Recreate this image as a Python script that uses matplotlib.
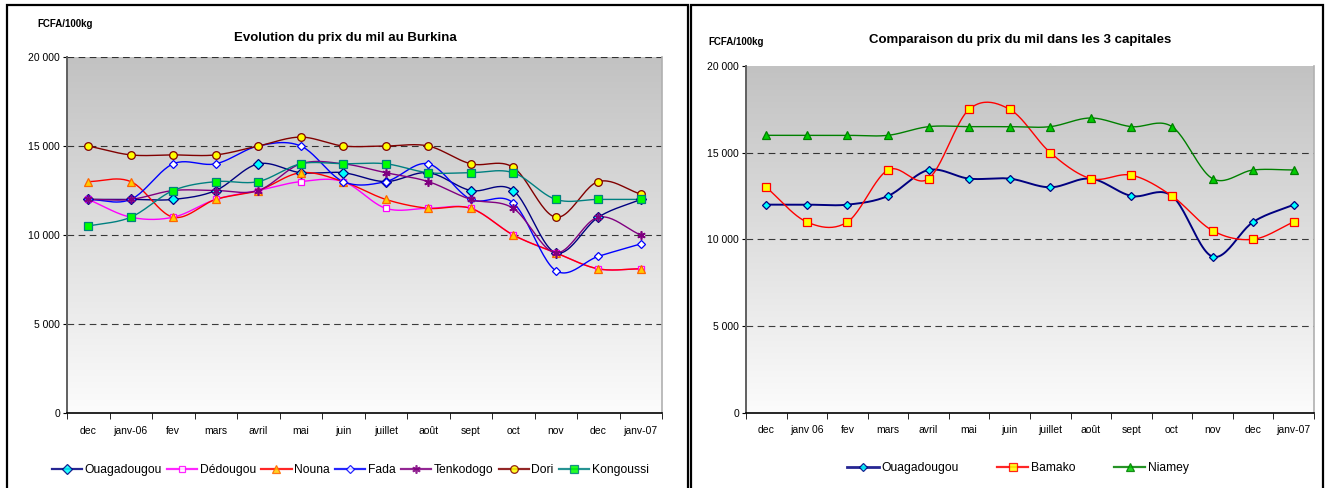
import numpy as np
import matplotlib
matplotlib.use("Agg")
import matplotlib.pyplot as plt
from matplotlib.lines import Line2D
from matplotlib.patches import Rectangle
from matplotlib.colors import LinearSegmentedColormap

plt.rcParams['font.family'] = ['Liberation Sans', 'DejaVu Sans']

# ---------------- data ----------------
months_left = ["dec", "janv-06", "fev", "mars", "avril", "mai", "juin", "juillet",
               "août", "sept", "oct", "nov", "dec", "janv-07"]
months_right = ["dec", "janv 06", "fev", "mars", "avril", "mai", "juin", "juillet",
                "août", "sept", "oct", "nov", "dec", "janv-07"]

ouaga = [12000, 12000, 12000, 12500, 14000, 13500, 13500, 13000, 13500, 12500, 12500, 9000, 11000, 12000]
dedougou = [12000, 11000, 11000, 12000, 12500, 13000, 13000, 11500, 11500, 11500, 10000, 9000, 8100, 8100]
nouna = [13000, 13000, 11000, 12000, 12500, 13500, 13000, 12000, 11500, 11500, 10000, 9000, 8100, 8100]
fada = [12000, 12000, 14000, 14000, 15000, 15000, 13000, 13000, 14000, 12000, 11800, 8000, 8800, 9500]
tenkodogo = [12000, 12000, 12500, 12500, 12500, 14000, 14000, 13500, 13000, 12000, 11500, 9000, 11000, 10000]
dori = [15000, 14500, 14500, 14500, 15000, 15500, 15000, 15000, 15000, 14000, 13800, 11000, 13000, 12300]
kongoussi = [10500, 11000, 12500, 13000, 13000, 14000, 14000, 14000, 13500, 13500, 13500, 12000, 12000, 12000]

ouaga_r = [12000, 12000, 12000, 12500, 14000, 13500, 13500, 13000, 13500, 12500, 12500, 9000, 11000, 12000]
bamako = [13000, 11000, 11000, 14000, 13500, 17500, 17500, 15000, 13500, 13700, 12500, 10500, 10000, 11000]
niamey = [16000, 16000, 16000, 16000, 16500, 16500, 16500, 16500, 17000, 16500, 16500, 13500, 14000, 14000]

yticks = [0, 5000, 10000, 15000, 20000]
ytick_labels = ["0", "5 000", "10 000", "15 000", "20 000"]


def smooth(y, n=24):
    """Catmull-Rom spline through the data points (Excel-like smoothed line)."""
    y = np.asarray(y, dtype=float)
    x = np.arange(len(y), dtype=float)
    P = np.column_stack([x, y])
    P = np.vstack([P[0] - (P[1] - P[0]), P, P[-1] + (P[-1] - P[-2])])
    out = []
    for i in range(1, len(P) - 2):
        p0, p1, p2, p3 = P[i - 1], P[i], P[i + 1], P[i + 2]
        t = np.linspace(0, 1, n, endpoint=False)[:, None]
        pts = 0.5 * ((2 * p1) + (-p0 + p2) * t + (2 * p0 - 5 * p1 + 4 * p2 - p3) * t ** 2
                     + (-p0 + 3 * p1 - 3 * p2 + p3) * t ** 3)
        out.append(pts)
    out.append(P[-2][None, :])
    out = np.vstack(out)
    return out[:, 0], out[:, 1]


W, H = 1325, 488
fig = plt.figure(figsize=(W / 100, H / 100), dpi=100)
fig.patch.set_facecolor('white')

# outer boxes (bottom edge falls outside the picture, as in the reference)
fig.patches.append(Rectangle((7 / W, -10 / H), (688 - 7) / W, (493) / H, transform=fig.transFigure,
                             fill=False, edgecolor='black', linewidth=1.6))
fig.patches.append(Rectangle((691 / W, -10 / H), (1323 - 691) / W, (493) / H, transform=fig.transFigure,
                             fill=False, edgecolor='black', linewidth=1.6))

cmap = LinearSegmentedColormap.from_list('g', ['#c2c2c2', '#fcfcfc'])
grad = np.linspace(0, 1, 256)[:, None]


def setup_axes(rect, labels, top_grid):
    ax = fig.add_axes(rect)
    ax.imshow(grad, cmap=cmap, aspect='auto', extent=(0, 1, 0, 1), transform=ax.transAxes, zorder=0)
    ax.set_xlim(-0.5, 13.5)
    ax.set_ylim(0, 20000)
    ax.set_yticks(yticks)
    ax.set_yticklabels(ytick_labels, fontsize=7.5)
    ax.set_xticks(range(14))
    ax.set_xticklabels(labels, fontsize=7.5)
    ax.set_xticks(np.arange(-0.5, 14, 1), minor=True)
    ax.tick_params(axis='x', which='major', length=0, pad=9)
    ax.tick_params(axis='x', which='minor', length=4, direction='out', color='black')
    ax.tick_params(axis='y', length=3, direction='out', pad=2)
    grid_levels = [5000, 10000, 15000] + ([20000] if top_grid else [])
    for g in grid_levels:
        ax.axhline(g, color='black', linestyle=(0, (6, 4)), linewidth=0.8, alpha=0.75, zorder=1)
    ax.spines['top'].set_visible(False)
    ax.spines['right'].set_color('#b0b0b0')
    ax.spines['right'].set_linewidth(1.2)
    ax.spines['left'].set_color('#606060')
    ax.spines['left'].set_linewidth(1.4)
    ax.spines['bottom'].set_color('black')
    ax.spines['bottom'].set_linewidth(1.2)
    return ax


def draw(ax, vals, color, marker, mfc, mec, ms, lw=1.0, mew=0.8):
    sx, sy = smooth(vals)
    ax.plot(sx, sy, color=color, linewidth=lw, zorder=3)
    ax.plot(range(len(vals)), vals, linestyle='none', marker=marker, markerfacecolor=mfc,
            markeredgecolor=mec, markersize=ms, markeredgewidth=mew, zorder=4)
    return Line2D([], [], color=color, linewidth=lw + 0.6, marker=marker, markerfacecolor=mfc,
                  markeredgecolor=mec, markersize=ms, markeredgewidth=mew, alpha=0.85)


# ---------------- left chart ----------------
axL = setup_axes([67 / W, (H - 413) / H, (662 - 67) / W, (413 - 57) / H], months_left, True)
series_left = [
    ("Ouagadougou", ouaga, '#000080', 'D', '#00ffff', '#000080', 5.5, 0.9),
    ("Dédougou", dedougou, '#ff00ff', 's', 'white', '#ff00ff', 5, 0.9),
    ("Nouna", nouna, '#ff0000', '^', '#ffcc00', '#ff6600', 5.5, 0.9),
    ("Fada", fada, '#0000ff', 'D', 'white', '#0000ff', 4.2, 0.9),
    ("Tenkodogo", tenkodogo, '#800080', (6, 2, 0), '#800080', '#800080', 6, 1.2),
    ("Dori", dori, '#800000', 'o', '#ffff00', '#800000', 5.5, 0.9),
    ("Kongoussi", kongoussi, '#008080', 's', '#00ff00', '#008080', 5.5, 0.9),
]
hL = []
for name, vals, c, m, fc, ec, ms, mew in series_left:
    hL.append(draw(axL, vals, c, m, fc, ec, ms, 1.0, mew))
fig.legend(hL, [s[0] for s in series_left], loc='center', bbox_to_anchor=(350 / W, 1 - 470 / H),
           ncol=7, frameon=False, fontsize=8.7, handlelength=2.5, handletextpad=0.2, columnspacing=0.45)
fig.text(37 / W, 1 - 24 / H, "FCFA/100kg", fontsize=7, fontweight='bold', va='center', ha='left')
fig.text(345 / W, 1 - 38 / H, "Evolution du prix du mil au Burkina", fontsize=9.5, fontweight='bold',
         va='center', ha='center')

# ---------------- right chart ----------------
axR = setup_axes([746 / W, (H - 412.6) / H, (1314 - 746) / W, (412.6 - 66) / H], months_right, False)
series_right = [
    ("Ouagadougou", ouaga_r, '#000080', 'D', '#00ffff', '#000080', 4.5, 1.4),
    ("Bamako", bamako, '#ff0000', 's', '#ffff00', '#ff0000', 5.5, 1.0),
    ("Niamey", niamey, '#008000', '^', '#00cc00', '#008000', 5.5, 1.0),
]
hR = []
for name, vals, c, m, fc, ec, ms, lw in series_right:
    hR.append(draw(axR, vals, c, m, fc, ec, ms, lw, 0.9))
fig.legend(hR, [s[0] for s in series_right], loc='center', bbox_to_anchor=(1018 / W, 1 - 468 / H),
           ncol=3, frameon=False, fontsize=8.7, handlelength=2.6, handletextpad=0.2, columnspacing=3.2)
fig.text(708 / W, 1 - 42 / H, "FCFA/100kg", fontsize=7, fontweight='bold', va='center', ha='left')
fig.text(1020 / W, 1 - 40 / H, "Comparaison du prix du mil dans les 3 capitales", fontsize=9.5,
         fontweight='bold', va='center', ha='center')

fig.savefig("out.png", dpi=100)
